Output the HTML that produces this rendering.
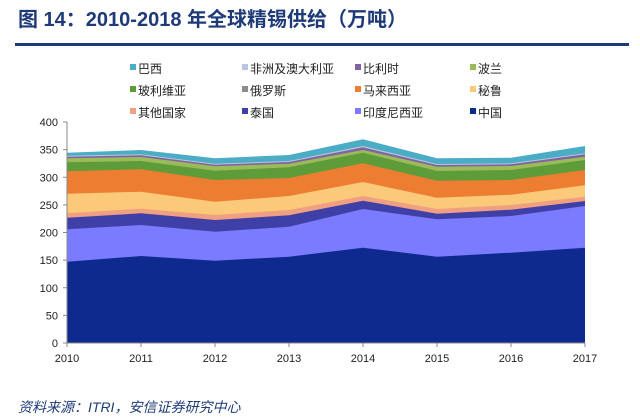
<!DOCTYPE html>
<html><head><meta charset="utf-8"><style>
body{margin:0;background:#fff;width:640px;height:418px;overflow:hidden;font-family:"Liberation Sans","Noto Sans CJK SC",sans-serif}
</style></head><body>
<svg id="s" width="640" height="418" xmlns="http://www.w3.org/2000/svg" style="position:absolute;left:0;top:0">
<text x="18" y="26" font-size="20" font-weight="bold" fill="#1f3a78" font-family="Liberation Sans,Noto Sans CJK SC,sans-serif">图 14：2010-2018 年全球精锡供给（万吨）</text>
<rect x="15" y="43" width="614" height="3" fill="#1f3a78"/>
<g font-size="12" fill="#222" font-family="Liberation Sans,Noto Sans CJK SC,sans-serif">
<rect x="130" y="64" width="6" height="6" fill="#4bacc6"/><text x="138" y="73">巴西</text>
<rect x="242" y="64" width="6" height="6" fill="#b9c6dd"/><text x="250" y="73">非洲及澳大利亚</text>
<rect x="355" y="64" width="6" height="6" fill="#8064a2"/><text x="363" y="73">比利时</text>
<rect x="470" y="64" width="6" height="6" fill="#9bbb59"/><text x="478" y="73">波兰</text>
<rect x="130" y="86" width="6" height="6" fill="#5e9c3a"/><text x="138" y="95">玻利维亚</text>
<rect x="242" y="86" width="6" height="6" fill="#8c8c8c"/><text x="250" y="95">俄罗斯</text>
<rect x="355" y="86" width="6" height="6" fill="#ed7d31"/><text x="363" y="95">马来西亚</text>
<rect x="470" y="86" width="6" height="6" fill="#fac97a"/><text x="478" y="95">秘鲁</text>
<rect x="130" y="108" width="6" height="6" fill="#f0a080"/><text x="138" y="117">其他国家</text>
<rect x="242" y="108" width="6" height="6" fill="#3f3fa8"/><text x="250" y="117">泰国</text>
<rect x="355" y="108" width="6" height="6" fill="#7b7bff"/><text x="363" y="117">印度尼西亚</text>
<rect x="470" y="108" width="6" height="6" fill="#0f2a8f"/><text x="478" y="117">中国</text>
</g>
<g id="areas"></g>
<g id="axes" font-size="11" fill="#222" font-family="Liberation Sans,sans-serif"></g>
<text x="18" y="412" font-size="14" font-style="italic" fill="#1f3a78" font-family="Liberation Sans,Noto Sans CJK SC,sans-serif">资料来源：ITRI，安信证券研究中心</text>
</svg>
<script>
var z={
brazil:[128,120,145,135,88,145,143,108],
africa:[137,133,161,153,108,162,160,130],
belgium:[140,136,164,156,112,165,163,133],
poland:[145,141,169,161,120,170,168,140],
bolivia:[157,153,182,172,128,183,180,150],
malaysia:[184,178,210,204,160,212,210,180],
peru:[251,245,275,258,216,263,254,226],
others:[310,296,315,300,258,297,285,260],
thai:[323,310,330,316,272,311,299,273],
indo:[358,345,365,350,297,328,318,288],
china:[455,438,452,440,413,440,428,413]};
var order=[["brazil","#4bacc6"],["africa","#b9c6dd"],["belgium","#8064a2"],["poland","#9bbb59"],["bolivia","#5e9c3a"],["malaysia","#ed7d31"],["peru","#fac97a"],["others","#f0a080"],["thai","#3f3fa8"],["indo","#7b7bff"],["china","#0f2a8f"]];
var ns="http://www.w3.org/2000/svg",g=document.getElementById("areas");
function X(i){return 67+74*i}
order.forEach(function(o){var p=z[o[0]].map(function(v,i){return X(i)+","+(110+v/3).toFixed(1)});
p.push(X(7)+",343");p.push(X(0)+",343");
var e=document.createElementNS(ns,"polygon");e.setAttribute("points",p.join(" "));e.setAttribute("fill",o[1]);g.appendChild(e);});
var a=document.getElementById("axes"),h="";
h+='<line x1="67" y1="122" x2="67" y2="343" stroke="#888"/><line x1="67" y1="343" x2="585" y2="343" stroke="#888"/>';
for(var v=0;v<=400;v+=50){var y=343-v*0.5525;h+='<line x1="63" y1="'+y+'" x2="67" y2="'+y+'" stroke="#888"/><text x="58" y="'+(y+4)+'" text-anchor="end">'+v+'</text>';}
for(var i=0;i<8;i++){h+='<line x1="'+X(i)+'" y1="343" x2="'+X(i)+'" y2="347" stroke="#888"/><text x="'+X(i)+'" y="362" text-anchor="middle">'+(2010+i)+'</text>';}
a.innerHTML=h;
</script>
</body></html>
